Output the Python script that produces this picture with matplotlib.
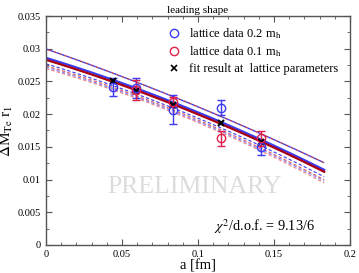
import numpy as np
import matplotlib
matplotlib.use("Agg")
import matplotlib.pyplot as plt
from matplotlib.ticker import MultipleLocator
from matplotlib.lines import Line2D

# lattice data, 0.2 m_h (blue)
a_blue = [0.044, 0.059, 0.0835, 0.115, 0.1415]
y_blue = [0.02415, 0.0240, 0.0207, 0.0210, 0.0149]
e_blue = [0.0014, 0.0015, 0.0022, 0.0012, 0.0011]

# lattice data, 0.1 m_h (red)
a_red = [0.059, 0.0835, 0.115, 0.1415]
y_red = [0.0237, 0.0219, 0.0163, 0.0163]
e_red = [0.0015, 0.0008, 0.0011, 0.0011]

# fit result at lattice parameters
a_fit = [0.044, 0.059, 0.0835, 0.115, 0.1415]
y_fit = [0.0251, 0.0235, 0.0214, 0.0187, 0.0157]

a_curve = [0.0, 0.05, 0.1, 0.15, 0.183]
solid_blue = [0.0287, 0.0246, 0.0202, 0.0155, 0.0113]
solid_red = [0.0284, 0.0243, 0.0199, 0.0152, 0.0110]
upper_blue = [0.0300, 0.0257, 0.0211, 0.0162, 0.0125]
upper_red = [0.0300, 0.0257, 0.0211, 0.0162, 0.0125]
lower_blue = [0.0278, 0.0237, 0.0193, 0.0146, 0.0102]
lower_red = [0.0275, 0.0234, 0.0190, 0.0143, 0.0097]
lower_blue2 = [0.0273, 0.0232, 0.0188, 0.0141, 0.0095]
lower_red2 = [0.0271, 0.0230, 0.0186, 0.0139, 0.0092]

BLUE = "#3a3af0"
RED = "#e0204a"
DARKRED = "#a80010"
serif = ["Liberation Serif", "DejaVu Serif"]

plt.rcParams["font.family"] = serif
plt.rcParams["mathtext.fontset"] = "stix"

fig = plt.figure(figsize=(3.59, 2.73), dpi=100)
ax = fig.add_axes([0.128, 0.103, 0.847, 0.838])


def smooth(xs, ys):
    # quadratic through the read points, only for drawing a smooth curve
    c = np.polyfit(xs, ys, 2)
    xx = np.linspace(xs[0], xs[-1], 100)
    return xx, np.polyval(c, xx)


for ys, col, ls, lw in [(lower_red2, "#f08080", (0, (3, 2)), 0.8),
                        (lower_blue2, "#8080ff", (0, (3, 2)), 0.8),
                        (lower_red, "#e06060", (0, (3, 2)), 0.8),
                        (lower_blue, BLUE, (0, (3, 2)), 0.8),
                        (upper_blue, BLUE, (0, (2, 2)), 1.0),
                        (upper_red, "#a03060", (2, (2, 2)), 1.0)]:
    xx, yy = smooth(a_curve, ys)
    ax.plot(xx, yy, color=col, ls=ls, lw=lw)

xx, yy = smooth(a_curve, solid_blue)
ax.plot(xx, yy, color=BLUE, lw=1.6)
xx, yy = smooth(a_curve, solid_red)
ax.plot(xx, yy, color=DARKRED, lw=1.6)

ax.errorbar(a_blue, y_blue, yerr=e_blue, fmt="o", mfc="none", mec=BLUE,
            ecolor=BLUE, ms=6, mew=1.0, capsize=3, elinewidth=1.0)
ax.errorbar(a_red, y_red, yerr=e_red, fmt="o", mfc="none", mec=RED,
            ecolor=RED, ms=6, mew=1.0, capsize=3, elinewidth=1.0)
ax.plot(a_fit, y_fit, "x", color="black", ms=4, mew=1.5)

ax.set_xlim(0, 0.2)
ax.set_ylim(0, 0.035)
ax.xaxis.set_major_locator(MultipleLocator(0.05))
ax.xaxis.set_minor_locator(MultipleLocator(0.01))
ax.yaxis.set_major_locator(MultipleLocator(0.005))
ax.yaxis.set_minor_locator(MultipleLocator(0.0025))
ax.tick_params(which="both", direction="in", top=True, right=True,
               color="#555555", labelsize=7.5)
ax.tick_params(which="major", length=4)
ax.tick_params(which="minor", length=2)
for s in ax.spines.values():
    s.set_color("#555555")
    s.set_linewidth(1.0)

ax.set_xticks([0, 0.05, 0.1, 0.15, 0.2])
ax.set_xticklabels(["0", "0.05", "0.1", "0.15", "0.2"])
ax.set_yticks([0, 0.005, 0.01, 0.015, 0.02, 0.025, 0.03, 0.035])
ax.set_yticklabels(["0", "0.005", "0.01", "0.015", "0.02", "0.025", "0.03", "0.035"])

ax.set_xlabel("a [fm]", fontsize=10.5, labelpad=0)
ax.set_ylabel(r"$\Delta$M$_\mathrm{Te}$ r$_1$", fontsize=11, labelpad=2)
ax.set_title("leading shape", fontsize=8, pad=2)

ax.text(0.487, 0.253, "PRELIMINARY", transform=ax.transAxes, fontsize=18.5,
        color="#dcdcdc", ha="center", va="center", zorder=0)
ax.text(0.717, 0.079, r"$\chi^2$/d.o.f. = 9.13/6", transform=ax.transAxes,
        fontsize=10.3, ha="center", va="center")

handles = [
    Line2D([], [], ls="none", marker="o", mfc="none", mec=BLUE, ms=6, mew=1.0),
    Line2D([], [], ls="none", marker="o", mfc="none", mec=RED, ms=6, mew=1.0),
    Line2D([], [], ls="none", marker="x", color="black", ms=4, mew=1.2),
]
labels = [r"lattice data 0.2 m$_\mathrm{h}$", r"lattice data 0.1 m$_\mathrm{h}$",
          "fit result at  lattice parameters"]
ax.legend(handles, labels, loc="upper right", bbox_to_anchor=(0.99, 0.995),
          frameon=False, fontsize=9, handlelength=0.8, handletextpad=0.8,
          labelspacing=0.3, borderaxespad=0.3)

fig.savefig("out.png", dpi=100)
